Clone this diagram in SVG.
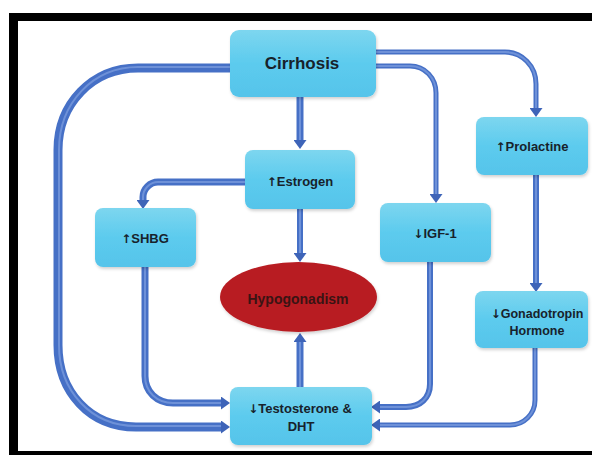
<svg xmlns="http://www.w3.org/2000/svg" width="592" height="455" viewBox="0 0 592 455">
<style>
.box{fill:url(#boxg);filter:url(#sh)}
.lbl{font-family:"Liberation Sans",Arial,sans-serif;font-weight:bold;font-size:13px;fill:#17222b;text-anchor:middle}
.ar{font-family:"DejaVu Sans",sans-serif;font-weight:bold;font-size:12px}
.tube{fill:none;stroke:#4670c6;stroke-linecap:butt;stroke-linejoin:round}
.hl{fill:none;stroke:#7f9fe0;stroke-width:2;stroke-linecap:butt;opacity:0.7}
</style>
<defs>
<linearGradient id="boxg" x1="0" y1="0" x2="0" y2="1">
<stop offset="0" stop-color="#7dd6ef"/>
<stop offset="0.5" stop-color="#5ccbee"/>
<stop offset="1" stop-color="#56c4ea"/>
</linearGradient>
<filter id="sh" x="-10%" y="-10%" width="125%" height="130%">
<feDropShadow dx="1" dy="2" stdDeviation="1.5" flood-color="#000" flood-opacity="0.18"/>
</filter>
<marker id="ah" markerUnits="userSpaceOnUse" markerWidth="9" markerHeight="13" viewBox="0 0 9 13" refX="0" refY="6.5" orient="auto">
<path d="M0,0 L9,6.5 L0,13 z" fill="#3e64b8"/>
</marker>
</defs>
<rect x="0" y="0" width="592" height="455" fill="#ffffff"/>
<g id="frame" fill="#000">
<rect x="9" y="13" width="583" height="8"/>
<rect x="9" y="13" width="9" height="442"/>
<rect x="9" y="451" width="583" height="4"/>
</g>
<g id="connectors">
<path class="tube" stroke-width="9" d="M230,68 H138 C92,68 58,104 58,150 V345 C58,392 90,427 136,427 H221" marker-end="url(#ah)"/>
<path class="hl" d="M230,67 H138 C93,67 59,103 59,150 V345 C59,391 91,426 136,426 H221"/>
<path class="tube" stroke-width="7" d="M300,97 V140" marker-end="url(#ah)"/>
<path class="hl" d="M300,97 V140"/>
<path class="tube" stroke-width="5" d="M376,66 H410 C425,66 436,78 436,93 V194" marker-end="url(#ah)"/>
<path class="hl" d="M376,66 H410 C425,66 436,78 436,93 V194"/>
<path class="tube" stroke-width="5" d="M376,52 H505 C522,52 536,66 536,84 V108" marker-end="url(#ah)"/>
<path class="hl" d="M376,52 H505 C522,52 536,66 536,84 V108"/>
<path class="tube" stroke-width="7" d="M245,182 H158 C150,182 143,189 143,197 V200" marker-end="url(#ah)"/>
<path class="hl" d="M245,182 H158 C150,182 143,189 143,197 V200"/>
<path class="tube" stroke-width="6" d="M300,209 V253" marker-end="url(#ah)"/>
<path class="hl" d="M300,209 V253"/>
<path class="tube" stroke-width="6" d="M536,175 V283" marker-end="url(#ah)"/>
<path class="hl" d="M536,175 V283"/>
<path class="tube" stroke-width="7" d="M145,267 V376 C145,392 157,403 173,403 H221" marker-end="url(#ah)"/>
<path class="hl" d="M145,267 V376 C145,392 157,403 173,403 H221"/>
<path class="tube" stroke-width="6" d="M430,262 V384 C430,398 420,407 406,407 H380" marker-end="url(#ah)"/>
<path class="hl" d="M430,262 V384 C430,398 420,407 406,407 H380"/>
<path class="tube" stroke-width="5" d="M535,348 V400 C535,414 524,425 510,425 H380" marker-end="url(#ah)"/>
<path class="hl" d="M535,348 V400 C535,414 524,425 510,425 H380"/>
<path class="tube" stroke-width="7" d="M300,387 V342" marker-end="url(#ah)"/>
<path class="hl" d="M300,387 V342"/>
</g>
<g id="cirrhosis">
<rect class="box" x="230" y="30" width="146" height="67" rx="9"/>
<text class="lbl" x="302" y="69" style="font-size:17px">Cirrhosis</text>
</g>
<g id="estrogen">
<rect class="box" x="245" y="150" width="110" height="59" rx="8"/>
<text class="lbl" x="300" y="186"><tspan class="ar">↑</tspan>Estrogen</text>
</g>
<g id="shbg">
<rect class="box" x="95" y="208" width="101" height="59" rx="8"/>
<text class="lbl" x="145" y="243"><tspan class="ar">↑</tspan>SHBG</text>
</g>
<g id="igf1">
<rect class="box" x="380" y="203" width="111" height="59" rx="8"/>
<text class="lbl" x="435" y="238"><tspan class="ar">↓</tspan>IGF-1</text>
</g>
<g id="prolactine">
<rect class="box" x="476" y="117" width="112" height="58" rx="8"/>
<text class="lbl" x="532" y="151"><tspan class="ar">↑</tspan>Prolactine</text>
</g>
<g id="gonadotropin">
<rect class="box" x="475" y="291" width="113" height="57" rx="8"/>
<text class="lbl" x="537" y="318" style="font-size:12.5px"><tspan class="ar">↓</tspan>Gonadotropin</text>
<text class="lbl" x="537" y="335" style="font-size:12.5px">Hormone</text>
</g>
<g id="hypogonadism">
<ellipse cx="298.5" cy="297" rx="78.5" ry="35" fill="#b81b21" filter="url(#sh)"/>
<text class="lbl" x="298" y="304" style="font-size:14px;fill:#3a1414">Hypogonadism</text>
</g>
<g id="testosterone">
<rect class="box" x="230" y="387" width="142" height="58" rx="8"/>
<text class="lbl" x="300" y="413"><tspan class="ar">↓</tspan>Testosterone &amp;</text>
<text class="lbl" x="301" y="431">DHT</text>
</g>
</svg>
